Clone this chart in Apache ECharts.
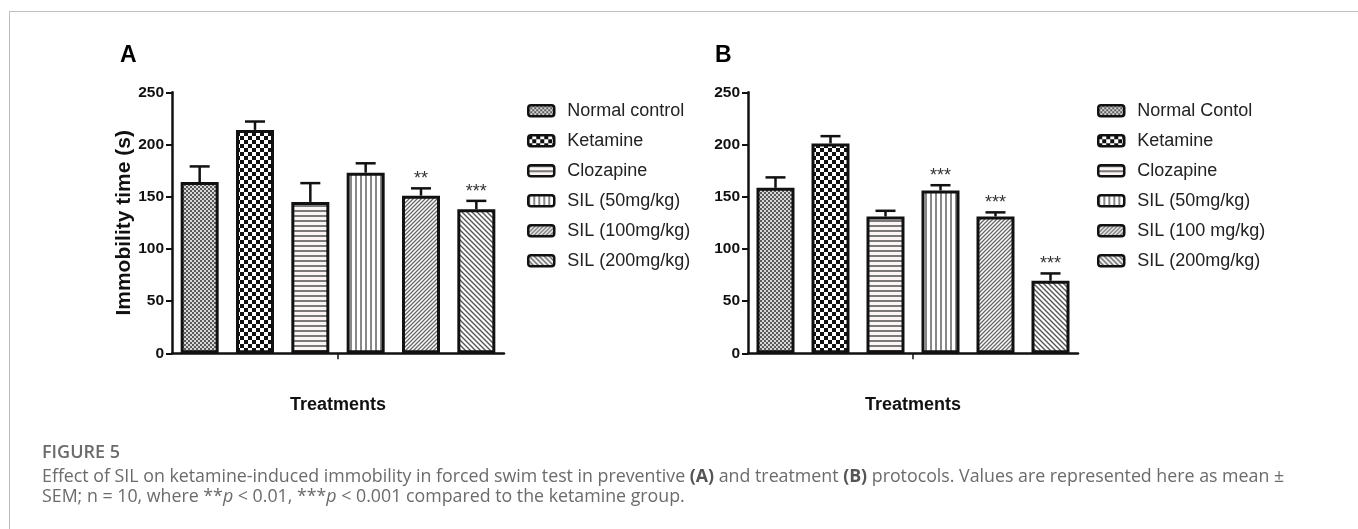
<!DOCTYPE html>
<html>
<head>
<meta charset="utf-8">
<script src="https://cdn.jsdelivr.net/npm/echarts@6/dist/echarts.min.js"></script>
<style>
  html, body { margin: 0; padding: 0; background: #fff; }
  #wrap { position: relative; width: 1358px; height: 529px; }
  #chart { position: absolute; left: 0; top: 0; width: 1358px; height: 529px; }
  #frame { position: absolute; left: 9px; top: 11px; right: 0; bottom: 0;
           border-top: 1px solid #bdbdbd; border-left: 1px solid #bdbdbd; pointer-events: none; }
</style>
</head>
<body>
<div id="wrap">
  <div id="chart"></div>
  <div id="frame"></div>
</div>
<script>
// ---- data ----
const categories = ['Normal control', 'Ketamine', 'Clozapine', 'SIL 50', 'SIL 100', 'SIL 200'];
const namesA = ['Normal control', 'Ketamine', 'Clozapine', 'SIL (50mg/kg)', 'SIL (100mg/kg)', 'SIL (200mg/kg)'];
const namesB = ['Normal Contol', 'Ketamine', 'Clozapine', 'SIL (50mg/kg)', 'SIL (100 mg/kg)', 'SIL (200mg/kg)'];
const meanA = [164, 214, 145, 173, 151, 138];
const semA  = [15, 8, 18, 9, 7, 8];
const sigA  = ['', '', '', '', '**', '***'];
const meanB = [158.5, 201, 131, 156, 131, 69.5];
const semB  = [10, 7, 5.5, 5, 4, 7];
const sigB  = ['', '', '', '***', '***', '***'];
const yTicks = [0, 50, 100, 150, 200, 250];

// ---- patterns ----
function makePattern(kind) {
  const c = document.createElement('canvas');
  let s = 4;
  if (kind === 'checker') s = 8;
  if (kind === 'h' || kind === 'v' || kind === 'd2') s = 5;
  c.width = s; c.height = s;
  const g = c.getContext('2d');
  g.fillStyle = '#ffffff'; g.fillRect(0, 0, s, s);
  if (kind === 'fine') {
    g.fillStyle = '#5a5a5a';
    g.fillRect(0, 0, 2, 2); g.fillRect(2, 2, 2, 2);
    g.fillStyle = '#d8d8d8';
    g.fillRect(2, 0, 2, 2); g.fillRect(0, 2, 2, 2);
  } else if (kind === 'checker') {
    g.fillStyle = '#111';
    g.fillRect(0, 0, 4, 4); g.fillRect(4, 4, 4, 4);
  } else if (kind === 'h') {
    g.fillStyle = '#fbf5f5'; g.fillRect(0, 0, s, s);
    g.fillStyle = '#7a7a7a'; g.fillRect(0, 0, s, 2);
  } else if (kind === 'v') {
    g.fillStyle = '#888'; g.fillRect(0, 0, 2, s);
  } else if (kind === 'd1') {
    g.strokeStyle = '#666'; g.lineWidth = 1.3;
    g.beginPath();
    g.moveTo(0, s); g.lineTo(s, 0);
    g.moveTo(-1, 1); g.lineTo(1, -1);
    g.moveTo(s - 1, s + 1); g.lineTo(s + 1, s - 1);
    g.stroke();
  } else if (kind === 'd2') {
    g.strokeStyle = '#555'; g.lineWidth = 1.4;
    g.beginPath();
    g.moveTo(0, 0); g.lineTo(s, s);
    g.moveTo(-1, s - 1); g.lineTo(1, s + 1);
    g.moveTo(s - 1, -1); g.lineTo(s + 1, 1);
    g.stroke();
  }
  return { image: c, repeat: 'repeat' };
}
const patterns = ['fine', 'checker', 'h', 'v', 'd1', 'd2'].map(makePattern);

const FONT = 'Liberation Sans, Arial, sans-serif';
const grids = [
  { left: 172, top: 92.3, width: 332, height: 261 },
  { left: 748, top: 92.3, width: 330, height: 261 }
];

const xAxes = [], yAxes = [], series = [];
[0, 1].forEach(gi => {
  xAxes.push({
    type: 'category', gridIndex: gi, data: categories,
    axisLine: { lineStyle: { color: '#111', width: 2.5 } },
    axisTick: { show: false }, axisLabel: { show: false },
    name: 'Treatments', nameLocation: 'middle', nameGap: 43,
    nameTextStyle: { fontFamily: FONT, fontSize: 18, fontWeight: 'bold', color: '#111' }
  });
  xAxes.push({
    type: 'category', gridIndex: gi, data: [''], position: 'bottom',
    axisLine: { show: false }, axisLabel: { show: false },
    axisTick: { show: true, alignWithLabel: true, length: 6, lineStyle: { color: '#111', width: 1.5 } }
  });
  yAxes.push({
    type: 'value', gridIndex: gi, min: 0, max: 250, interval: 50,
    axisLine: { show: true, lineStyle: { color: '#111', width: 2.5 } },
    axisTick: { show: true, length: 6, lineStyle: { color: '#111', width: 2 } },
    splitLine: { show: false },
    axisLabel: { margin: 8, fontFamily: FONT, fontSize: 15.5, fontWeight: 'bold', color: '#111',
                 formatter: v => yTicks.includes(v) ? String(v) : '' },
    name: gi === 0 ? 'Immobility time (s)' : '',
    nameLocation: 'middle', nameGap: 36, nameRotate: 90,
    nameTextStyle: { fontFamily: FONT, fontSize: 21, fontWeight: 'bold', color: '#111' }
  });

  const names = gi === 0 ? namesA : namesB;
  const means = gi === 0 ? meanA : meanB;
  const sems = gi === 0 ? semA : semB;
  const sigs = gi === 0 ? sigA : sigB;
  names.forEach((nm, i) => {
    series.push({
      type: 'bar', name: nm, xAxisIndex: gi * 2, yAxisIndex: gi,
      barWidth: 38, barGap: '-100%',
      data: means.map((v, j) => j === i ? v : '-'),
      itemStyle: { color: patterns[i], borderColor: '#111', borderWidth: 3 },
      emphasis: { disabled: true }, z: 2
    });
  });
  series.push({
    type: 'custom', xAxisIndex: gi * 2, yAxisIndex: gi, z: 5, silent: true,
    data: means.map((v, j) => [j, v, sems[j]]),
    encode: { x: 0, y: 1 },
    renderItem: (params, api) => {
      const x = api.value(0), m = api.value(1), s = api.value(2);
      const base = api.coord([x, m]);
      const top = api.coord([x, m + s]);
      const children = [
        { type: 'line', shape: { x1: base[0], y1: base[1], x2: top[0], y2: top[1] },
          style: { stroke: '#111', lineWidth: 2.5 } },
        { type: 'line', shape: { x1: top[0] - 10, y1: top[1], x2: top[0] + 10, y2: top[1] },
          style: { stroke: '#111', lineWidth: 2.5 } }
      ];
      const sg = sigs[params.dataIndex];
      if (sg) {
        children.push({ type: 'text', style: { text: sg, x: top[0], y: top[1] - 9,
          align: 'center', verticalAlign: 'middle', fontSize: 18, fontFamily: FONT, fill: '#333' } });
      }
      return { type: 'group', children };
    }
  });
});

const legendText = { fontFamily: FONT, fontSize: 18, lineHeight: 18, color: '#222', padding: [0, 0, 0, 8] };
const CAP = 17.8;
const option = {
  backgroundColor: '#fff',
  animation: false,
  title: [
    { text: 'A', left: 120, top: 44, padding: 0,
      textStyle: { fontFamily: FONT, fontSize: 23, fontWeight: 'bold', color: '#000' } },
    { text: 'B', left: 715, top: 44, padding: 0,
      textStyle: { fontFamily: FONT, fontSize: 23, fontWeight: 'bold', color: '#000' } },
    { text: 'FIGURE 5', left: 42, top: 443.5, padding: 0,
      textStyle: { fontFamily: 'Open Sans', fontSize: 18, fontWeight: 600, color: '#6b6b6b' } },
    { text: 'Effect of SIL on ketamine-induced immobility in forced swim test in preventive {b|(A)} and treatment {b|(B)} protocols. Values are represented here as mean ±\nSEM; n = 10, where **{i|p} < 0.01, ***{i|p} < 0.001 compared to the ketamine group.',
      left: 42, top: 466.7, padding: 0,
      textStyle: { fontFamily: 'Open Sans', fontSize: CAP, fontWeight: 'normal', color: '#6b6b6b', lineHeight: 20,
        rich: {
          b: { fontFamily: 'Open Sans', fontSize: CAP, fontWeight: 'bold', color: '#555', lineHeight: 20 },
          i: { fontFamily: 'Open Sans', fontSize: CAP, fontStyle: 'italic', color: '#6b6b6b', lineHeight: 20 }
        } } }
  ],
  legend: [
    { data: namesA, orient: 'vertical', left: 527, top: 101.7, padding: 0, itemGap: 12,
      itemWidth: 26, itemHeight: 11, icon: 'roundRect', selectedMode: false,
      itemStyle: { borderColor: '#111', borderWidth: 2.5 }, textStyle: legendText },
    { data: namesB, orient: 'vertical', left: 1097, top: 101.7, padding: 0, itemGap: 12,
      itemWidth: 26, itemHeight: 11, icon: 'roundRect', selectedMode: false,
      itemStyle: { borderColor: '#111', borderWidth: 2.5 }, textStyle: legendText }
  ],
  grid: grids,
  xAxis: xAxes,
  yAxis: yAxes,
  series: series
};
const chart = echarts.init(document.getElementById('chart'), null, { renderer: 'canvas' });
chart.setOption(option);
</script>
</body>
</html>
